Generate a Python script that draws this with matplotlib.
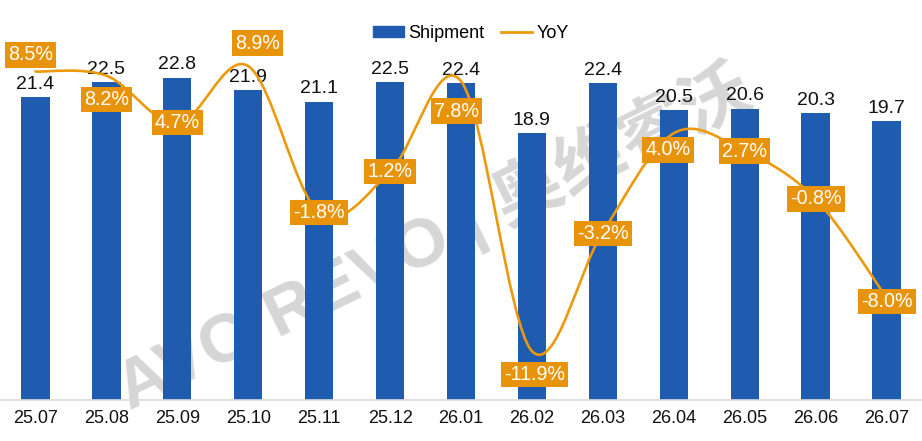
import numpy as np
import matplotlib
matplotlib.use("Agg")
import matplotlib.pyplot as plt
from matplotlib.path import Path
from matplotlib.patches import PathPatch, Patch
from matplotlib.lines import Line2D

plt.rcParams['font.family'] = ['Liberation Sans', 'DejaVu Sans']

# data
months = ['25.07', '25.08', '25.09', '25.10', '25.11', '25.12', '26.01',
          '26.02', '26.03', '26.04', '26.05', '26.06', '26.07']
shipment = [21.4, 22.5, 22.8, 21.9, 21.1, 22.5, 22.4, 18.9, 22.4, 20.5, 20.6, 20.3, 19.7]
yoy = [8.5, 8.2, 4.7, 8.9, -1.8, 1.2, 7.8, -11.9, -3.2, 4.0, 2.7, -0.8, -8.0]

# where each YoY label sits relative to its point (offset points)
yoy_label_offsets = [(-3.5, 12), (0, -17), (0, 1), (6.5, 16.5), (0, 0), (0, 0), (-3, -21.5),
                     (2, -17), (0, -1), (-4.3, -12), (0, 0), (0, 0), (0, -3)]

blue = '#1F5BAF'
orange = '#EC9A0C'
box_orange = '#E8940A'

fig = plt.figure(figsize=(9.22, 4.41), dpi=100)
ax = fig.add_axes([0, 41 / 441, 1, 396 / 441])
ax.patch.set_visible(False)
ax2 = ax.twinx()

# watermark behind everything
fig.text(0.47, 0.46, 'AVC·REVO | 奥维睿沃', rotation=26, ha='center', va='center',
         fontsize=50, fontweight='bold', color='#CFCFCF', alpha=0.85,
         family=['Liberation Sans', 'Noto Sans CJK SC'], zorder=-5)

x = np.arange(len(months))
bars = ax.bar(x, shipment, width=0.4, color=blue, zorder=2)
for xi, v in zip(x, shipment):
    ax.annotate(f'{v:.1f}', (xi, v), xytext=(0, 3), textcoords='offset points',
                ha='center', va='bottom', fontsize=14, color='#111111')

ax.set_xlim(-0.5, len(months) - 0.5)
ax.set_ylim(0, 28)
ax.set_xticks(x)
ax.set_xticklabels(months, fontsize=13, color='#111111')
ax.tick_params(axis='x', length=0, pad=7)
ax.set_yticks([])
for s in ['top', 'left', 'right']:
    ax.spines[s].set_visible(False)
ax.spines['bottom'].set_color('#D9D9D9')
ax.spines['bottom'].set_linewidth(1.2)

# smoothed YoY line (Excel-like bezier smoothing)
y = np.array(yoy)
n = len(y)
verts = [(x[0], y[0])]
codes = [Path.MOVETO]
for i in range(n - 1):
    p0 = i - 1 if i > 0 else i
    p3 = i + 2 if i + 2 < n else i + 1
    c1 = (x[i] + (x[i + 1] - x[p0]) / 6, y[i] + (y[i + 1] - y[p0]) / 6)
    c2 = (x[i + 1] - (x[p3] - x[i]) / 6, y[i + 1] - (y[p3] - y[i]) / 6)
    verts += [c1, c2, (x[i + 1], y[i + 1])]
    codes += [Path.CURVE4] * 3
ax2.add_patch(PathPatch(Path(verts, codes), fill=False, edgecolor=orange, lw=1.9,
                        capstyle='round', joinstyle='round', zorder=3))

for xi, v, off in zip(x, yoy, yoy_label_offsets):
    ax2.annotate(f'{v:.1f}%', (xi, v), xytext=off, textcoords='offset points',
                 ha='center', va='center', fontsize=14.2, color='white', zorder=5,
                 bbox=dict(boxstyle='square,pad=0.16', fc=box_orange, ec='none'))

ax2.set_ylim(-15.47, 13.43)
ax2.set_yticks([])
for s in ax2.spines.values():
    s.set_visible(False)

handles = [Patch(color=blue), Line2D([], [], color=orange, lw=2)]
fig.legend(handles, ['Shipment', 'YoY'], loc='center', bbox_to_anchor=(471 / 922, 1 - 33 / 441),
           ncol=2, frameon=False, fontsize=13, handlelength=1.7, handleheight=0.55,
           handletextpad=0.25, columnspacing=0.9)

fig.savefig('out.png', dpi=100)
